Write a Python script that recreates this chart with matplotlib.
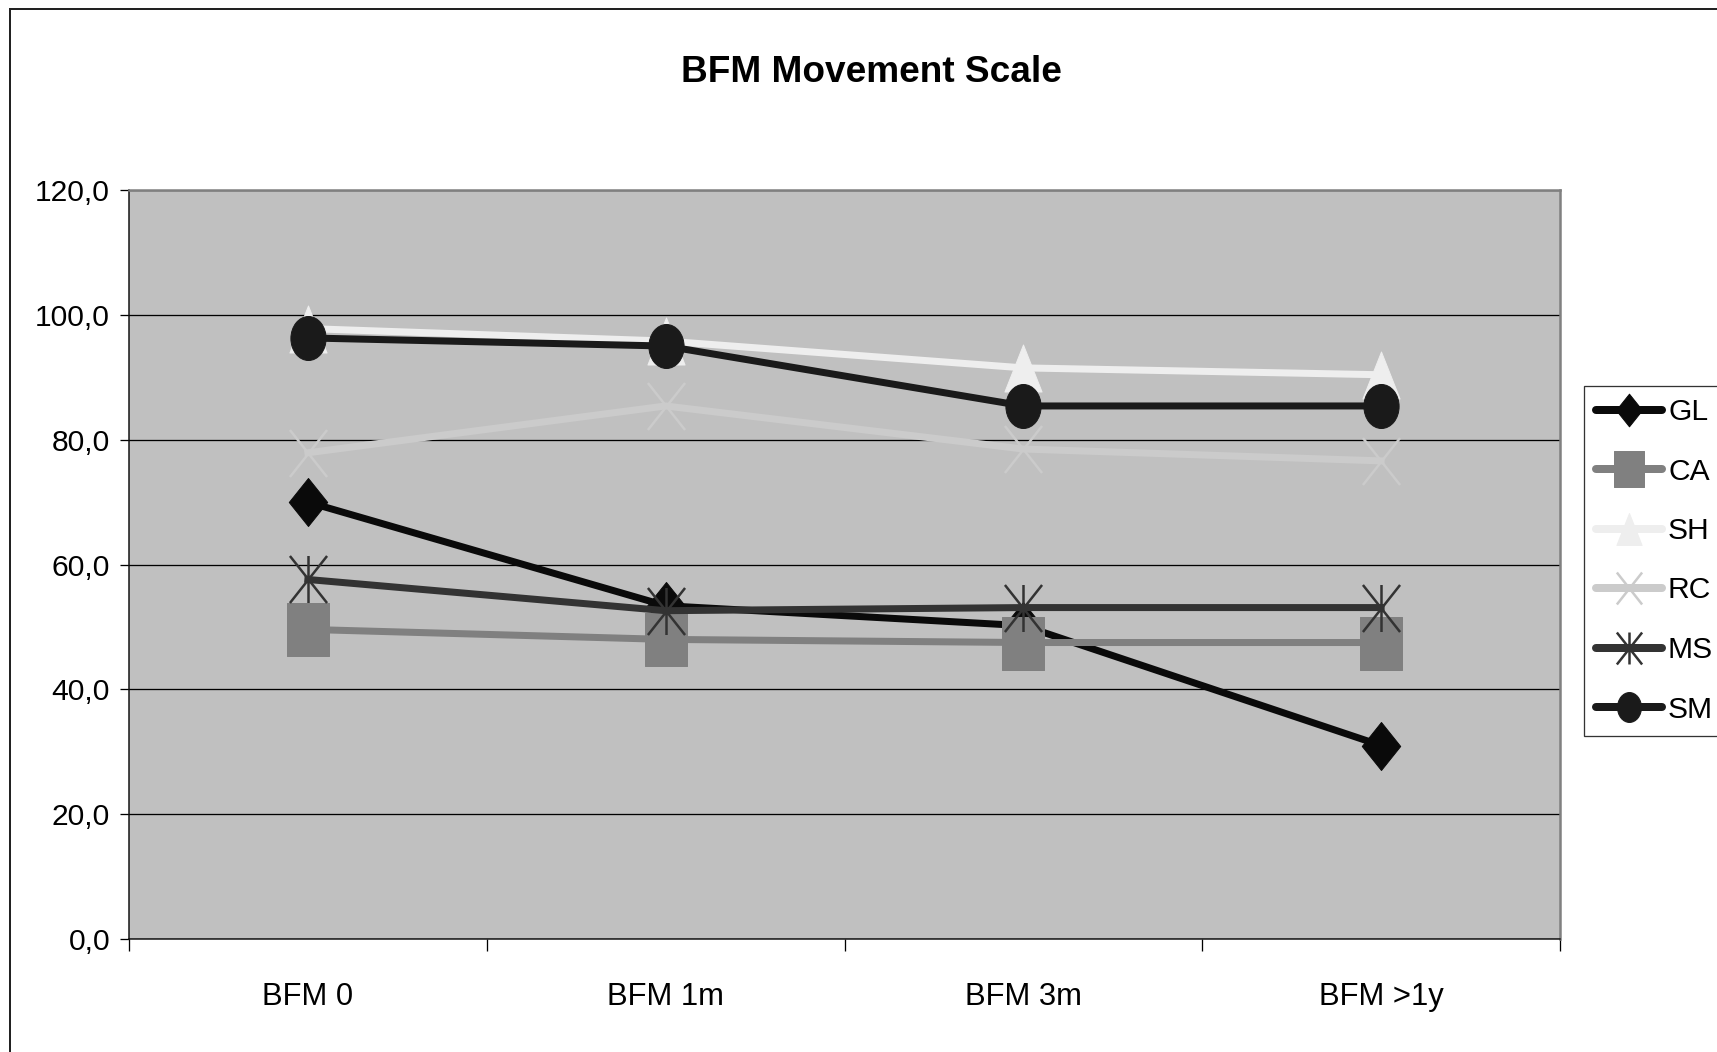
import numpy as np
import matplotlib
matplotlib.use('Agg')
import matplotlib.pyplot as plt
from matplotlib.path import Path
from matplotlib.lines import Line2D
from matplotlib.ticker import FixedLocator, NullFormatter

plt.rcParams['font.family'] = ['Liberation Sans', 'DejaVu Sans']

categories = ['BFM 0', 'BFM 1m', 'BFM 3m', 'BFM >1y']
yticks = [0, 20, 40, 60, 80, 100, 120]
ytick_labels = ['0,0', '20,0', '40,0', '60,0', '80,0', '100,0', '120,0']

names = ['GL', 'CA', 'SH', 'RC', 'MS', 'SM']
GL = [70.0, 53.4, 50.2, 31.0]
CA = [49.6, 48.0, 47.5, 47.5]
SH = [97.8, 95.8, 91.5, 90.4]
RC = [77.9, 85.4, 78.5, 76.6]
MS = [57.6, 52.6, 53.1, 53.1]
SM = [96.3, 95.0, 85.4, 85.4]
series = [GL, CA, SH, RC, MS, SM]

# excel style markers, a bit taller than wide
M, L = Path.MOVETO, Path.LINETO
diamond = Path([(0, 1.25), (1, 0), (0, -1.25), (-1, 0), (0, 1.25)], closed=True)
square = Path([(-0.81, -1), (0.81, -1), (0.81, 1), (-0.81, 1), (-0.81, -1)], closed=True)
triangle = Path([(-0.79, -1), (0.79, -1), (0, 1), (-0.79, -1)], closed=True)
circ = Path.unit_circle()
ellipse = Path(circ.vertices * [0.8, 1.0], circ.codes)
xmark = Path([(-0.79, -1), (0.79, 1), (-0.79, 1), (0.79, -1)], [M, L, M, L])
star = Path([(-0.79, -1), (0.79, 1), (-0.79, 1), (0.79, -1), (0, -1), (0, 1)],
            [M, L, M, L, M, L])

styles = [
    dict(color='#0a0a0a', marker=diamond, ms=48, filled=True),
    dict(color='#808080', marker=square, ms=53, filled=True),
    dict(color='#eeeeee', marker=triangle, ms=47, filled=True),
    dict(color='#cbcbcb', marker=xmark, ms=47, filled=False),
    dict(color='#333333', marker=star, ms=47, filled=False),
    dict(color='#1a1a1a', marker=ellipse, ms=44, filled=True),
]

W, H = 1717, 1052
fig = plt.figure(figsize=(W / 72, H / 72), dpi=72)
ax = fig.add_axes([129 / W, 1 - 939 / H, (1560 - 129) / W, (939 - 190) / H])
ax.set_facecolor('#c0c0c0')

x = np.arange(len(categories))
for i, (vals, st) in enumerate(zip(series, styles)):
    if st['filled']:
        ax.plot(x, vals, color=st['color'], lw=7, marker=st['marker'], ms=st['ms'],
                mfc=st['color'], mec=st['color'], mew=1, zorder=3 + i,
                solid_joinstyle='round')
    else:
        ax.plot(x, vals, color=st['color'], lw=7, marker=st['marker'], ms=st['ms'],
                mfc='none', mec=st['color'], mew=2.5, zorder=3 + i,
                solid_joinstyle='round')

ax.set_xlim(-0.5, len(categories) - 0.5)
ax.set_ylim(0, 120)

ax.set_yticks(yticks)
ax.set_yticklabels(ytick_labels)
ax.yaxis.grid(True, color='black', lw=1.3)
ax.set_axisbelow(True)

# tick marks between categories, labels centred on each category
ax.xaxis.set_major_locator(FixedLocator(np.arange(-0.5, len(categories), 1.0)))
ax.xaxis.set_major_formatter(NullFormatter())
ax.xaxis.set_minor_locator(FixedLocator(x))
ax.set_xticklabels(categories, minor=True)
ax.tick_params(axis='x', which='major', direction='out', length=12, width=1.3, color='black')
ax.tick_params(axis='x', which='minor', length=0, pad=43, labelsize=31)
ax.tick_params(axis='y', direction='out', length=9, width=1.3, color='black',
               pad=10, labelsize=30)

for side in ['top', 'right']:
    ax.spines[side].set_color('#808080')
    ax.spines[side].set_linewidth(2.5)
for side in ['left', 'bottom']:
    ax.spines[side].set_color('#111111')
    ax.spines[side].set_linewidth(1.5)

fig.text(871 / W, 1 - 82 / H, 'BFM Movement Scale', ha='center', va='baseline',
         fontsize=37, fontweight='bold')

# chart area frame (left and top edges are the only ones inside the image)
fig.add_artist(Line2D([10 / W, 10 / W], [0, 1 - 9 / H], transform=fig.transFigure,
                      color='#222222', lw=2))
fig.add_artist(Line2D([10 / W, 1], [1 - 9 / H, 1 - 9 / H], transform=fig.transFigure,
                      color='#222222', lw=2))

handles = []
for name, st in zip(names, styles):
    if st['filled']:
        h = Line2D([], [], color=st['color'], lw=8, marker=st['marker'], ms=st['ms'] * 0.68,
                   mfc=st['color'], mec=st['color'], solid_capstyle='round')
    else:
        h = Line2D([], [], color=st['color'], lw=8, marker=st['marker'], ms=st['ms'] * 0.68,
                   mfc='none', mec=st['color'], mew=2.5, solid_capstyle='round')
    handles.append(h)

leg = fig.legend(handles, names, loc='upper left', bbox_to_anchor=(1584 / W, 1 - 386 / H),
                 fontsize=30, frameon=True, fancybox=False, edgecolor='black',
                 handlelength=2.2, handletextpad=0.2, labelspacing=1.05,
                 borderpad=0.4, borderaxespad=0)
leg.get_frame().set_linewidth(1.3)

fig.savefig('out.png', dpi=72, facecolor='white')
